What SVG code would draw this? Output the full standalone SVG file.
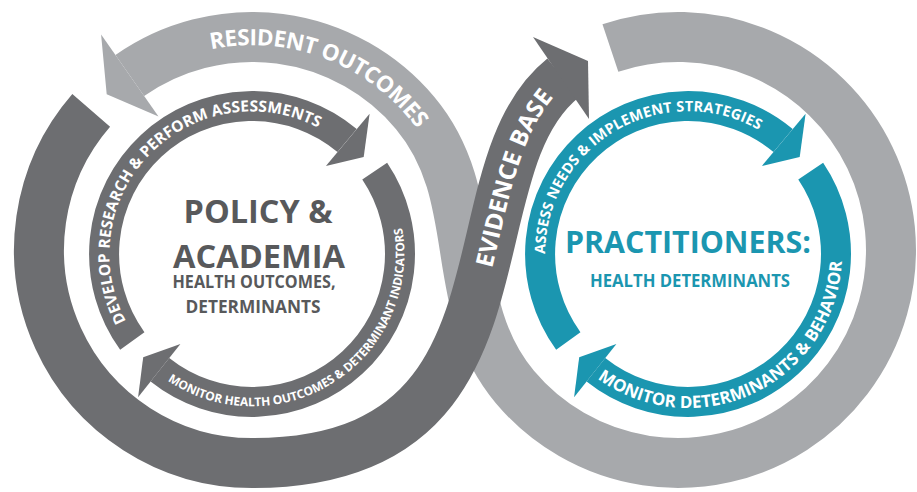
<svg xmlns="http://www.w3.org/2000/svg" width="917" height="492" viewBox="0 0 917 492">
<style>
.band{fill:none;stroke-linecap:butt}
.lg{stroke:#a7a9ac}.lgf{fill:#a7a9ac}
.dk{stroke:#6d6e71}.dkf{fill:#6d6e71}
.tl{stroke:#1b96b0}.tlf{fill:#1b96b0}
.w50{stroke-width:50}.w30{stroke-width:30}
.bt{font-family:"Open Sans","Liberation Sans",sans-serif;font-weight:700;fill:#fff}
.ct{font-family:"Open Sans","Liberation Sans",sans-serif;font-weight:700;text-anchor:middle}
</style>
<defs>
<path id="tpRes" d="M 211.2 49.3 A 204.8 204.8 0 0 1 417.7 129.6"/>
<path id="tpEvi" d="M 252 463 C 545 463 446 171.75 563 78"/>
<path id="tpDev" d="M 126.1 321 A 142.6 142.6 0 0 1 321.1 129.3"/>
<path id="tpMonL" d="M 167.5 380.7 A 152.3 152.3 0 0 0 401.7 225.7"/>
<path id="tpAss" d="M 545.2 254 A 142.8 142.8 0 0 1 760.5 131"/>
<path id="tpMonR" d="M 597.5 378.6 A 154 154 0 0 0 841.9 259.4"/>
</defs>
<rect width="917" height="492" fill="#fff"/>

<g id="outer-loop">
  <g id="resident-outcomes">
    <path class="band lg w50" d="M 610.4 48 A 213 213 0 1 1 514.8 386.9 C 444.1 302.6 485.9 197.4 415.2 113.1 A 213 213 0 0 0 129.8 75.5"/>
    <polygon class="lgf" points="101.1,34.5 106.7,94.2 158.5,116.5"/>
    <text class="bt" font-size="22.5"><textPath href="#tpRes" textLength="233" lengthAdjust="spacing">RESIDENT OUTCOMES</textPath></text>
  </g>
  <g id="evidence-base">
    <path class="band dk w50" d="M 91.2 110.3 A 213 213 0 0 0 252 463 C 545 463 446 171.75 563 78"/>
    <polygon class="dkf" points="533,37 588,61 589,119"/>
    <text class="bt" font-size="24" transform="translate(7.4,3)"><textPath href="#tpEvi" startOffset="338" textLength="184" lengthAdjust="spacing">EVIDENCE BASE</textPath></text>
  </g>
</g>

<g id="policy-academia">
  <g id="develop-research">
    <path class="band dk w30" d="M 132.3 341 A 148 148 0 0 1 347.1 140.6"/>
    <polygon class="dkf" points="369.6,113.8 363.7,156.9 325.9,165.9"/>
    <text class="bt" font-size="15.5"><textPath href="#tpDev" textLength="362" lengthAdjust="spacing">DEVELOP RESEARCH &amp; PERFORM ASSESSMENTS</textPath></text>
  </g>
  <g id="monitor-health">
    <path class="band dk w30" d="M 374.7 171.2 A 148 148 0 0 1 159.9 369.8"/>
    <polygon class="dkf" points="138.1,397.2 143.2,357.3 180.4,344"/>
    <text class="bt" font-size="12"><textPath href="#tpMonL" textLength="355" lengthAdjust="spacing">MONITOR HEALTH OUTCOMES &amp; DETERMINANT INDICATORS</textPath></text>
  </g>
  <g id="policy-label" fill="#58595b">
    <text class="ct" x="258" y="223" font-size="33" textLength="149" lengthAdjust="spacingAndGlyphs">POLICY &amp;</text>
    <text class="ct" x="259" y="268" font-size="33" textLength="172" lengthAdjust="spacingAndGlyphs">ACADEMIA</text>
    <text class="ct" x="254" y="288" font-size="17" textLength="163" lengthAdjust="spacingAndGlyphs">HEALTH OUTCOMES,</text>
    <text class="ct" x="253" y="313" font-size="17" textLength="135" lengthAdjust="spacingAndGlyphs">DETERMINANTS</text>
  </g>
</g>

<g id="practitioners">
  <g id="assess-needs">
    <path class="band tl w30" d="M 568.3 341 A 148 148 0 0 1 783.1 140.6"/>
    <polygon class="tlf" points="805.6,113.8 799.7,156.9 761.9,165.9"/>
    <text class="bt" font-size="14.5"><textPath href="#tpAss" textLength="298" lengthAdjust="spacing">ASSESS NEEDS &amp; IMPLEMENT STRATEGIES</textPath></text>
  </g>
  <g id="monitor-determinants">
    <path class="band tl w30" d="M 810.7 171.2 A 148 148 0 0 1 595.9 369.8"/>
    <polygon class="tlf" points="574.1,397.2 579.2,357.3 616.4,344"/>
    <text class="bt" font-size="17"><textPath href="#tpMonR" textLength="331" lengthAdjust="spacing">MONITOR DETERMINANTS &amp; BEHAVIOR</textPath></text>
  </g>
  <g id="practitioners-label" fill="#1b96b0">
    <text class="ct" x="688" y="253" font-size="30" textLength="246" lengthAdjust="spacingAndGlyphs">PRACTITIONERS:</text>
    <text class="ct" x="690" y="287" font-size="17" textLength="200" lengthAdjust="spacingAndGlyphs">HEALTH DETERMINANTS</text>
  </g>
</g>
</svg>
